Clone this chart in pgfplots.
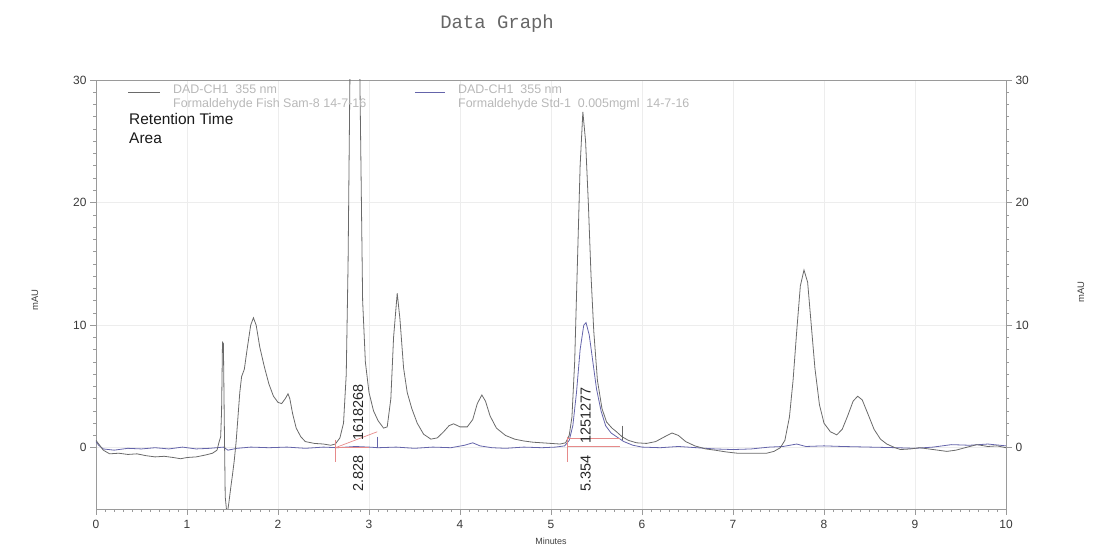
\documentclass[border=0pt]{standalone}
\usepackage{pgfplots}
\pgfplotsset{compat=1.18}
\usepackage{fontspec}
\setmainfont{Liberation Sans}
\newfontfamily\monofont{Liberation Mono}

\definecolor{sampleline}{HTML}{6A6A6A}
\definecolor{stdline}{HTML}{6464AA}
\definecolor{intg}{HTML}{E68A8A}
\definecolor{legtext}{HTML}{B8B8B8}
\definecolor{ticktext}{HTML}{3A3A3A}
\definecolor{frame}{HTML}{9A9A9A}

% DAD-CH1 355 nm, Formaldehyde Fish Sam-8
\pgfplotstableread{
t y
0.00 0.6
0.03 0.3
0.08 -0.2
0.15 -0.5
0.25 -0.45
0.35 -0.55
0.45 -0.5
0.55 -0.65
0.65 -0.75
0.75 -0.7
0.85 -0.8
0.93 -0.9
1.00 -0.8
1.10 -0.75
1.20 -0.6
1.28 -0.45
1.33 -0.2
1.35 0.4
1.37 0.9
1.38 3.0
1.39 8.6
1.40 8.5
1.41 2.0
1.42 -4.0
1.44 -5.5
1.46 -4.5
1.48 -3.3
1.50 -2.2
1.52 -1.0
1.54 0.5
1.56 2.5
1.58 4.5
1.60 5.8
1.63 6.4
1.66 8.0
1.70 10.0
1.73 10.6
1.76 10.0
1.80 8.2
1.85 6.6
1.90 5.2
1.95 4.2
2.00 3.7
2.04 3.6
2.08 4.0
2.11 4.4
2.13 4.0
2.16 2.8
2.20 1.6
2.25 0.9
2.30 0.5
2.40 0.35
2.50 0.3
2.58 0.2
2.63 0.3
2.68 0.8
2.72 2.0
2.75 6.0
2.77 15.0
2.79 30.0
2.81 45.0
2.84 55.0
2.88 45.0
2.90 30.0
2.93 12.0
2.96 7.0
3.00 4.5
3.05 3.0
3.10 2.2
3.16 1.6
3.20 1.7
3.24 4.0
3.27 9.0
3.31 12.6
3.34 10.5
3.38 6.5
3.42 4.5
3.47 3.2
3.53 2.0
3.60 1.1
3.68 0.7
3.75 0.8
3.82 1.3
3.88 1.8
3.93 1.95
4.00 1.7
4.08 1.7
4.14 2.3
4.19 3.6
4.24 4.3
4.28 3.8
4.33 2.6
4.40 1.6
4.50 1.0
4.60 0.7
4.70 0.55
4.80 0.45
4.90 0.4
5.00 0.35
5.10 0.3
5.16 0.4
5.20 1.0
5.23 2.5
5.26 7.0
5.29 15.0
5.32 23.0
5.35 27.4
5.38 25.0
5.41 20.0
5.44 14.0
5.47 9.5
5.51 5.5
5.56 3.2
5.61 2.1
5.67 1.6
5.72 1.3
5.78 0.9
5.85 0.6
5.94 0.4
6.05 0.35
6.15 0.5
6.25 0.9
6.33 1.2
6.40 1.0
6.48 0.5
6.58 0.15
6.70 -0.1
6.80 -0.2
6.93 -0.35
7.05 -0.45
7.20 -0.45
7.37 -0.45
7.45 -0.3
7.52 0.0
7.57 0.6
7.62 2.5
7.66 5.5
7.70 9.5
7.74 13.2
7.78 14.5
7.82 13.5
7.86 10.0
7.90 6.5
7.95 3.5
8.00 2.0
8.07 1.3
8.14 1.05
8.20 1.5
8.26 2.6
8.32 3.8
8.37 4.2
8.42 3.9
8.48 2.8
8.55 1.5
8.62 0.7
8.69 0.3
8.78 0.0
8.84 -0.15
8.95 -0.1
9.05 0.0
9.15 -0.1
9.25 -0.2
9.35 -0.3
9.45 -0.2
9.55 0.0
9.68 0.25
9.80 0.1
9.90 0.15
10.00 0.0
}\sampletrace

% DAD-CH1 355 nm, Formaldehyde Std-1 0.005mgml
\pgfplotstableread{
t y
0.00 0.5
0.03 0.2
0.08 -0.1
0.20 -0.2
0.35 -0.05
0.50 -0.1
0.65 0.0
0.80 -0.1
0.95 0.05
1.10 -0.1
1.25 -0.05
1.40 0.05
1.45 -0.2
1.55 -0.05
1.70 0.05
1.90 0.0
2.10 0.05
2.30 -0.05
2.50 0.05
2.65 0.0
2.85 0.1
3.00 0.05
3.10 0.0
3.30 0.05
3.50 -0.05
3.70 0.05
3.90 0.0
4.05 0.2
4.14 0.4
4.22 0.15
4.35 0.0
4.50 -0.05
4.70 0.05
4.90 0.0
5.05 0.05
5.15 0.15
5.20 0.6
5.24 1.8
5.28 4.5
5.32 8.0
5.36 10.0
5.385 10.2
5.42 9.2
5.46 7.0
5.50 4.8
5.55 3.0
5.60 1.8
5.66 1.2
5.72 0.9
5.80 0.5
5.90 0.2
6.00 0.05
6.20 0.0
6.40 0.1
6.60 0.0
6.80 -0.1
7.00 -0.15
7.20 -0.1
7.40 0.05
7.55 0.1
7.70 0.3
7.80 0.1
8.00 0.15
8.20 0.1
8.50 0.05
8.80 0.0
9.00 -0.05
9.20 0.05
9.40 0.25
9.60 0.2
9.80 0.3
10.00 0.15
}\stdtrace

\pgfplotsset{
  chromframe/.style={
    scale only axis, width=910bp, height=429bp,
    at={(0,0)}, anchor=south west,
    xmin=0, xmax=10, ymin=-5, ymax=30,
    ytick={0,10,20,30}, minor y tick num=9,
    tick align=outside,
    major tick length=6bp, minor tick length=3bp,
    tick style={draw=frame, line width=0.6bp},
    /pgf/number format/assume math mode=true,
    ticklabel style={font=\fontsize{12}{13}\selectfont, text=ticktext},
  },
}

\begin{document}
\begin{tikzpicture}[x=1bp,y=1bp]
\useasboundingbox (-96,-37) rectangle (1015,509);
\begin{axis}[
  chromframe,
  xtick={0,1,...,10}, minor x tick num=9,
  xtick pos=bottom, ytick pos=left,
  xticklabel style={yshift=-2bp},
  grid=major, major grid style={draw=black!7, line width=0.6bp},
  axis line style={draw=frame, line width=0.9bp},
  clip mode=individual,
]
  % detector traces
  \addplot[stdline, line width=0.8bp] table[x=t, y=y] {\stdtrace};
  \addplot[sampleline, line width=0.8bp] table[x=t, y=y] {\sampletrace};

  % integration baselines and peak markers
  \addplot[intg, line width=0.7bp] coordinates {(2.63,0.0) (3.09,1.3)};
  \addplot[intg, line width=0.7bp] coordinates {(2.63,0.0) (3.00,0.0)};
  \addplot[intg, line width=0.7bp] coordinates {(2.63,0.65) (2.63,-1.15)};
  \addplot[stdline, line width=0.7bp] coordinates {(3.09,0.9) (3.09,0.0)};
  \addplot[intg, line width=0.7bp] coordinates {(5.18,0.8) (5.76,0.8)};
  \addplot[intg, line width=0.7bp] coordinates {(5.18,0.1) (5.76,0.1)};
  \addplot[intg, line width=0.7bp] coordinates {(5.18,0.9) (5.18,-1.15)};
  \addplot[sampleline, line width=0.7bp] coordinates {(5.78,1.8) (5.78,0.65)};

  % peak annotations: area and retention time
  \node[rotate=90, font=\fontsize{14.5}{15}\selectfont, text=black!85] at (axis cs:2.88,2.85) {1618268};
  \node[rotate=90, font=\fontsize{14.5}{15}\selectfont, text=black!85] at (axis cs:2.88,-2.1) {2.828};
  \node[rotate=90, font=\fontsize{14.5}{15}\selectfont, text=black!85] at (axis cs:5.38,2.6) {1251277};
  \node[rotate=90, font=\fontsize{14.5}{15}\selectfont, text=black!85] at (axis cs:5.38,-2.1) {5.354};

  % trace legend
  \draw[sampleline, line width=0.8bp] (rel axis cs:0.0352,0.972) -- (rel axis cs:0.0703,0.972);
  \node[anchor=base west, inner sep=0, text=legtext, font=\fontsize{12.5}{13}\selectfont]
    at (rel axis cs:0.0846,0.9674) {DAD-CH1\ \ 355 nm};
  \node[anchor=base west, inner sep=0, text=legtext, font=\fontsize{12.5}{13}\selectfont]
    at (rel axis cs:0.0846,0.9359) {Formaldehyde Fish Sam-8 14-7-16};
  \draw[stdline, line width=0.8bp] (rel axis cs:0.3505,0.972) -- (rel axis cs:0.3835,0.972);
  \node[anchor=base west, inner sep=0, text=legtext, font=\fontsize{12.5}{13}\selectfont]
    at (rel axis cs:0.3978,0.9674) {DAD-CH1\ \ 355 nm};
  \node[anchor=base west, inner sep=0, text=legtext, font=\fontsize{12.5}{13}\selectfont]
    at (rel axis cs:0.3978,0.9359) {Formaldehyde Std-1\ \ 0.005mgml\ \ 14-7-16};

  % annotation key
  \node[anchor=base west, inner sep=0, font=\fontsize{15.5}{17}\selectfont, text=black!90]
    at (rel axis cs:0.0363,0.8951) {Retention Time};
  \node[anchor=base west, inner sep=0, font=\fontsize{15.5}{17}\selectfont, text=black!90]
    at (rel axis cs:0.0363,0.8531) {Area};

  % axis titles and header
  \node[rotate=90, font=\fontsize{9.5}{10}\selectfont, text=black!75] at (rel axis cs:-0.067,0.487) {mAU};
  \node[rotate=90, font=\fontsize{9.5}{10}\selectfont, text=black!75] at (rel axis cs:1.0824,0.506) {mAU};
  \node[font=\fontsize{9}{10}\selectfont, text=black!75] at (rel axis cs:0.5,-0.075) {Minutes};
  \node[font=\monofont\fontsize{19}{20}\selectfont, text=black!60] at (rel axis cs:0.4407,1.132) {Data Graph};
\end{axis}

% right-hand mAU scale
\begin{axis}[
  chromframe,
  axis x line=none, axis y line*=right,
  axis line style={draw=frame, line width=0.9bp},
  yticklabel pos=right,
]
  \addplot[draw=none] coordinates {(0,0)};
\end{axis}
\end{tikzpicture}
\end{document}
